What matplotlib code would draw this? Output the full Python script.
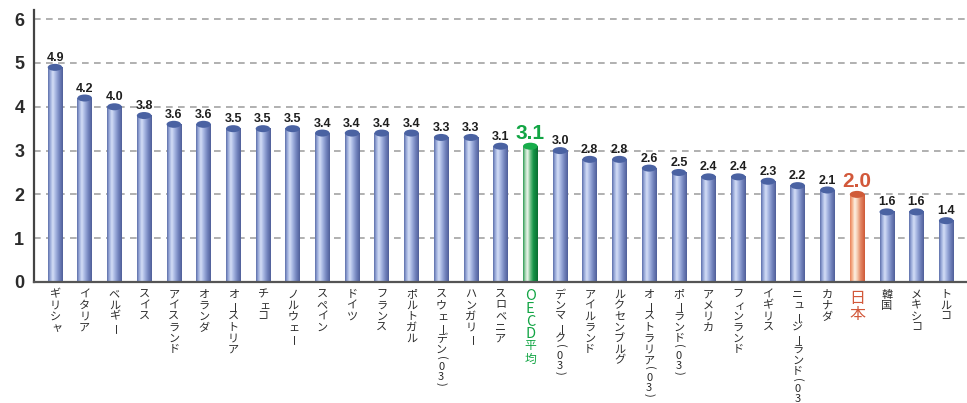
import matplotlib.pyplot as plt
import numpy as np
from matplotlib.colors import LinearSegmentedColormap
from matplotlib.patches import Ellipse
from matplotlib.transforms import offset_copy

# country names, shown stacked vertically under each bar
countries = [
    'ギリシャ', 'イタリア', 'ベルギー', 'スイス', 'アイスランド', 'オランダ',
    'オーストリア', 'チェコ', 'ノルウェー', 'スペイン', 'ドイツ', 'フランス',
    'ポルトガル', 'スウェーデン(03)', 'ハンガリー', 'スロベニア', 'OECD平均',
    'デンマーク(03)', 'アイルランド', 'ルクセンブルグ', 'オーストラリア(03)',
    'ポーランド(03)', 'アメリカ', 'フィンランド', 'イギリス',
    'ニュージーランド(03)', 'カナダ', '日本', '韓国', 'メキシコ', 'トルコ',
]
values = [4.9, 4.2, 4.0, 3.8, 3.6, 3.6, 3.5, 3.5, 3.5, 3.4, 3.4, 3.4, 3.4,
          3.3, 3.3, 3.1, 3.1, 3.0, 2.8, 2.8, 2.6, 2.5, 2.4, 2.4, 2.3, 2.2,
          2.1, 2.0, 1.6, 1.6, 1.4]
yticks = [0, 1, 2, 3, 4, 5, 6]

OECD = 'OECD平均'
JAPAN = '日本'

blue_cmap = LinearSegmentedColormap.from_list('blue', [
    (0.0, '#5e70ab'), (0.15, '#9aabda'), (0.32, '#d4def6'),
    (0.5, '#a9b8e3'), (0.75, '#7586bf'), (1.0, '#4f5f99')])
green_cmap = LinearSegmentedColormap.from_list('green', [
    (0.0, '#2f9a55'), (0.15, '#a6d6b2'), (0.3, '#eef7ee'),
    (0.5, '#6cbf84'), (0.7, '#159447'), (1.0, '#0b6e30')])
orange_cmap = LinearSegmentedColormap.from_list('orange', [
    (0.0, '#e9825b'), (0.15, '#f6b58f'), (0.32, '#fdf1e4'),
    (0.5, '#f4c9ae'), (0.7, '#e48a68'), (1.0, '#cf5a37')])

JP_FONT = ['Noto Sans CJK JP', 'DejaVu Sans']
NUM_FONT = 'Liberation Sans'

fig = plt.figure(figsize=(9.67, 4.03), dpi=100)
ax = fig.add_axes([34 / 967, 121 / 403, 933 / 967, 271.6 / 403])

ax.set_xlim(-0.707, 30.70)
ax.set_ylim(0, 6.2)

# dashed gridlines
for t in yticks[1:]:
    ax.axhline(t, color='#a3a3a3', lw=1.2, ls=(0, (4, 3.2)), zorder=0)

w = 0.49
cap_h = 0.16
grad = np.linspace(0, 1, 64).reshape(1, -1)

for i, (name, v) in enumerate(zip(countries, values)):
    if name == OECD:
        cmap, top, lab_col, lab_size = green_cmap, '#17ad4b', '#12a544', 15
    elif name == JAPAN:
        cmap, top, lab_col, lab_size = orange_cmap, '#d05b38', '#d2583a', 15
    else:
        cmap, top, lab_col, lab_size = blue_cmap, '#4a62a2', '#1e1e1e', 9
    ax.imshow(grad, cmap=cmap, aspect='auto', extent=[i - w / 2, i + w / 2, 0, v],
              zorder=2, interpolation='bilinear')
    ax.add_patch(Ellipse((i, v), w, cap_h, facecolor=top, edgecolor='none', zorder=3))
    ax.annotate(f'{v:.1f}', (i, v), xytext=(0, 2.5), textcoords='offset points',
                ha='center', va='bottom', fontsize=lab_size, fontweight='bold',
                color=lab_col, family=NUM_FONT, zorder=4)

# vertical (tategaki) labels below the axis, one character at a time
small_kana = set('ャィェッュ')
base = ax.get_xaxis_transform()


def put(i, ch, off, dx=0, **kw):
    tr = offset_copy(base, fig=fig, x=dx, y=-off, units='dots')
    ax.text(i, 0, ch, transform=tr, clip_on=False, family=JP_FONT, **kw)


for i, name in enumerate(countries):
    if name == OECD:
        color, size, step = '#12a544', 10.5, 12.5
    elif name == JAPAN:
        color, size, step = '#d2583a', 11.5, 16
    else:
        color, size, step = '#2b2b2b', 8, 11
    off = 7.5
    for ch in name:
        if ch in '平均':
            size, step = 8.5, 13
        if ch == 'ー':
            put(i, ch, off + step * 0.45, dx=3.5, fontsize=size, color=color,
                rotation=90, rotation_mode='anchor', ha='center', va='center')
            off += step
        elif ch in '()':
            put(i, ch, off, fontsize=size, color=color, rotation=270,
                ha='center', va='top')
            off += 6.5
        elif ch.isdigit():
            put(i, ch, off, fontsize=size, color=color, ha='center', va='top')
            off += 10
        else:
            put(i, ch, off, dx=1.5 if ch in small_kana else 0, fontsize=size,
                color=color, ha='center', va='top')
            off += step

ax.set_yticks(yticks)
ax.set_yticklabels([str(t) for t in yticks], fontsize=13, fontweight='bold',
                   color='#2b2b2b', family=NUM_FONT)
ax.tick_params(axis='y', length=0, pad=7)
ax.set_xticks([])

for side in ['top', 'right']:
    ax.spines[side].set_visible(False)
ax.spines['left'].set_color('#444444')
ax.spines['left'].set_linewidth(1.6)
ax.spines['bottom'].set_color('#555555')
ax.spines['bottom'].set_linewidth(1.6)
ax.spines['bottom'].set_zorder(5)

fig.savefig('out.png', dpi=100)
